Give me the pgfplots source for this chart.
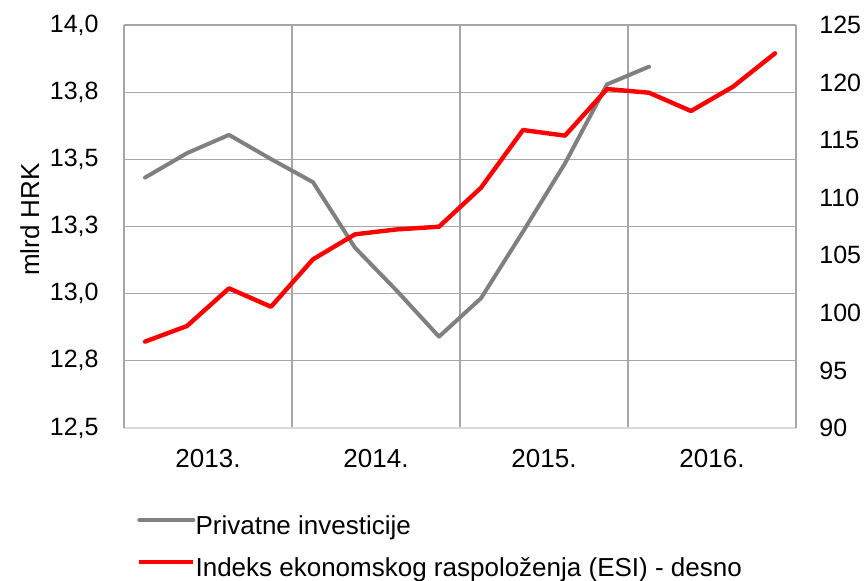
\documentclass[border=0pt]{standalone}
\usepackage{pgfplots}
\pgfplotsset{compat=1.18}
\usepackage{fontspec}
\setmainfont{Liberation Sans}
\definecolor{gridc}{HTML}{A6A6A6}
\definecolor{axc}{HTML}{D9D9D9}
\definecolor{lgray}{HTML}{808080}
\definecolor{lred}{HTML}{FF0000}
\begin{document}
\begin{tikzpicture}
\path[use as bounding box] (0,0) rectangle (433.5pt,290pt);
\begin{axis}[
  at={(62pt,76pt)}, anchor=south west,
  scale only axis, width=336pt, height=201.5pt,
  xmin=0, xmax=16, ymin=12.5, ymax=14,
  axis x line*=bottom, axis y line*=left,
  x axis line style={axc, line width=1.1pt},
  y axis line style={gridc, line width=0.6pt},
  major tick length=0pt, minor tick length=0pt,
  xtick={2,6,10,14},
  xticklabels={2013.,2014.,2015.,2016.},
  minor xtick={0,4,8,12,16},
  xminorgrids=true, xmajorgrids=false, ymajorgrids=true,
  grid style={gridc, line width=0.6pt},
  minor grid style={gridc, line width=0.6pt},
  ytick={12.5,12.75,13,13.25,13.5,13.75,14},
  yticklabels={{12,5},{12,8},{13,0},{13,3},{13,5},{13,8},{14,0}},
  /pgf/number format/assume math mode=true,
  yticklabel style={font=\fontsize{12.5}{15}\selectfont, inner sep=0pt, anchor=east, xshift=-12.5pt},
  xticklabel style={font=\fontsize{13}{16}\selectfont, inner sep=0pt, anchor=north, yshift=-10.5pt},
  ylabel={mlrd HRK},
  ylabel style={font=\fontsize{13}{15}\selectfont, at={(axis description cs:-0.14,0.517)}, anchor=center, inner sep=0pt},
  legend style={at={(axis description cs:0.019,-0.215)}, anchor=north west, draw=none, fill=none, inner sep=0pt,
    font=\fontsize{13}{15}\selectfont, row sep=9pt, column sep=0pt,
    nodes={inner sep=0pt, text height=9.5pt, text depth=2.5pt}},
  legend cell align=left,
  legend image code/.code={\draw[#1] (0pt,3.5pt) -- (27pt,3.5pt);},
]
\addplot[lgray, line width=2pt, line cap=round, line join=round] coordinates {
(0.5,13.432) (1.5,13.523) (2.5,13.591) (3.5,13.501) (4.5,13.415) (5.5,13.171) (6.5,13.01)
(7.5,12.84) (8.5,12.983) (9.5,13.231) (10.5,13.485) (11.5,13.779) (12.5,13.845)};
\addlegendentry{Privatne investicije}
\addlegendimage{lred, line width=2.2pt}
\addlegendentry{Indeks ekonomskog raspoloženja (ESI) - desno}
\end{axis}
\begin{axis}[
  at={(62pt,76pt)}, anchor=south west,
  scale only axis, width=336pt, height=201.5pt,
  xmin=0, xmax=16, ymin=90, ymax=125,
  axis y line*=right, axis x line=none,
  y axis line style={gridc, line width=0.6pt},
  major tick length=0pt,
  ytick={90,95,100,105,110,115,120,125},
  /pgf/number format/assume math mode=true,
  yticklabel style={font=\fontsize{12.5}{15}\selectfont, inner sep=0pt, anchor=west, xshift=11.5pt},
]
\addplot[lred, line width=2.2pt, line cap=round, line join=round] coordinates {
(0.5,97.5) (1.5,98.86) (2.5,102.13) (3.5,100.53) (4.5,104.65) (5.5,106.82) (6.5,107.25) (7.5,107.48)
(8.5,110.87) (9.5,115.88) (10.5,115.39) (11.5,119.44) (12.5,119.12) (13.5,117.53) (14.5,119.64) (15.5,122.54)};
\end{axis}
\end{tikzpicture}
\end{document}
